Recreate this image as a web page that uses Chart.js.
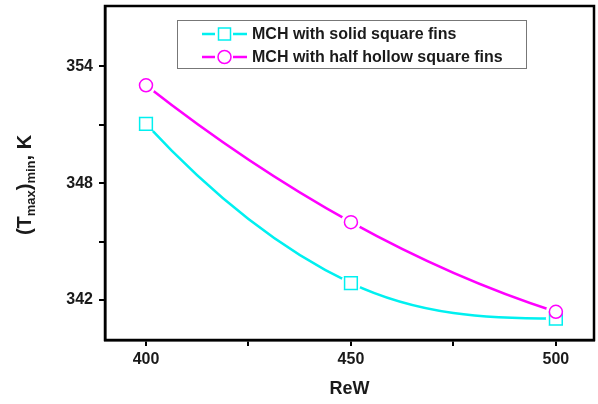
<!DOCTYPE html>
<html>
<head>
<meta charset="utf-8">
<script src="https://cdn.jsdelivr.net/npm/chart.js@4.4.1/dist/chart.umd.min.js"></script>
<style>
  html, body { margin: 0; padding: 0; background: #fff; }
  #wrap { width: 598px; height: 404px; }
</style>
</head>
<body>
<div id="wrap"><canvas id="tempChart" width="598" height="404"></canvas></div>
<script>
// data
const reW = [400, 450, 500];
const solidFins = [351.05, 342.87, 341.05];
const hollowFins = [353.03, 346.0, 341.4];
const xTicks = [400, 425, 450, 475, 500];
const yTicks = [342, 345, 348, 351, 354];
const seriesNames = ['MCH with solid square fins', 'MCH with half hollow square fins'];

const FONT = "'Liberation Sans', Arial, sans-serif";

// smooth the 3-point curves like a parabola through the points
// (end slopes clamped so the curve never overshoots a point)
const parabolaCurve = {
    id: 'parabolaCurve',
    beforeDatasetsDraw(chart) {
        chart.data.datasets.forEach((ds, i) => {
            const meta = chart.getDatasetMeta(i);
            meta.dataset.updateControlPoints(chart.chartArea);
            const p = meta.data;
            if (p.length !== 3) return;
            const h = (p[2].x - p[0].x) / 2;
            const s1 = (p[1].y - p[0].y) / h;
            const s2 = (p[2].y - p[1].y) / h;
            let d0 = (-3 * p[0].y + 4 * p[1].y - p[2].y) / (2 * h);
            const d1 = (p[2].y - p[0].y) / (2 * h);
            let d2 = (p[0].y - 4 * p[1].y + 3 * p[2].y) / (2 * h);
            if (d0 * s1 < 0) d0 = 0;
            if (d2 * s2 < 0) d2 = 0;
            p[0].cp2x = p[0].x + h / 3; p[0].cp2y = p[0].y + d0 * h / 3;
            p[1].cp1x = p[1].x - h / 3; p[1].cp1y = p[1].y - d1 * h / 3;
            p[1].cp2x = p[1].x + h / 3; p[1].cp2y = p[1].y + d1 * h / 3;
            p[2].cp1x = p[2].x - h / 3; p[2].cp1y = p[2].y - d2 * h / 3;
        });
    }
};

// white gap around markers, then redraw markers on top
const markerGap = {
    id: 'markerGap',
    afterDatasetsDraw(chart) {
        const ctx = chart.ctx;
        ctx.save();
        ctx.fillStyle = '#fff';
        chart.data.datasets.forEach((ds, i) => {
            chart.getDatasetMeta(i).data.forEach(pt => {
                ctx.beginPath();
                ctx.arc(pt.x, pt.y, 10, 0, Math.PI * 2);
                ctx.fill();
            });
        });
        ctx.restore();
        chart.data.datasets.forEach((ds, i) => {
            chart.getDatasetMeta(i).data.forEach(pt => pt.draw(chart.ctx, chart.chartArea));
        });
    }
};

// frame, legend box and y title with subscripts
const decor = {
    id: 'decor',
    afterDraw(chart) {
        const ctx = chart.ctx;
        const a = chart.chartArea;
        ctx.save();
        ctx.strokeStyle = '#000';
        ctx.lineWidth = 2.5;
        ctx.strokeRect(a.left, a.top, a.right - a.left, a.bottom - a.top);

        // legend
        ctx.lineWidth = 1;
        ctx.strokeStyle = '#777';
        ctx.strokeRect(177.5, 20.5, 349, 48);
        const rows = [34, 57];
        chart.data.datasets.forEach((ds, i) => {
            const y = rows[i];
            ctx.strokeStyle = ds.borderColor;
            ctx.lineWidth = 2.5;
            ctx.beginPath();
            ctx.moveTo(202, y); ctx.lineTo(215, y);
            ctx.moveTo(233, y); ctx.lineTo(247, y);
            ctx.stroke();
            ctx.lineWidth = 1.5;
            if (ds.pointStyle === 'rect') {
                ctx.strokeRect(218.5, y - 6, 12, 12);
            } else {
                ctx.beginPath();
                ctx.arc(224.5, y, 6.5, 0, Math.PI * 2);
                ctx.stroke();
            }
            ctx.fillStyle = '#1a1a1a';
            ctx.font = 'bold 16px ' + FONT;
            ctx.textBaseline = 'middle';
            ctx.textAlign = 'left';
            ctx.fillText(ds.label, 252, y + 1);
        });

        // y axis title: (T_max)_min, K
        ctx.translate(25, 185);
        ctx.rotate(-Math.PI / 2);
        const parts = [
            ['(T', 20, 0], ['max', 13, 6], [')', 20, 0], ['min', 13, 6], [', K', 20, 0]
        ];
        let w = 0;
        parts.forEach(p => { ctx.font = 'bold ' + p[1] + 'px ' + FONT; w += ctx.measureText(p[0]).width; });
        let x = -w / 2;
        ctx.fillStyle = '#1a1a1a';
        ctx.textBaseline = 'middle';
        ctx.textAlign = 'left';
        parts.forEach(p => {
            ctx.font = 'bold ' + p[1] + 'px ' + FONT;
            ctx.fillText(p[0], x, p[2]);
            x += ctx.measureText(p[0]).width;
        });
        ctx.restore();
    }
};

function createTempChart() {
    const ctx = document.getElementById('tempChart');

    const tempData = {
        datasets: [{
            label: seriesNames[0],
            data: reW.map((r, i) => ({ x: r, y: solidFins[i] })),
            borderColor: '#00f0f0',
            backgroundColor: '#fff',
            borderWidth: 2.5,
            pointStyle: 'rect',
            pointRadius: 9,
            pointBorderWidth: 1.5,
            tension: 0.4
        }, {
            label: seriesNames[1],
            data: reW.map((r, i) => ({ x: r, y: hollowFins[i] })),
            borderColor: '#ff00ff',
            backgroundColor: '#fff',
            borderWidth: 2.5,
            pointStyle: 'circle',
            pointRadius: 6.5,
            pointBorderWidth: 1.5,
            tension: 0.4
        }]
    };

    const tickFont = { family: FONT, size: 16, weight: 'bold' };

    new Chart(ctx, {
        type: 'line',
        data: tempData,
        options: {
            responsive: false,
            animation: false,
            layout: { autoPadding: false, padding: { top: 6, right: 4, left: 0, bottom: 0 } },
            plugins: { legend: { display: false }, tooltip: { enabled: false } },
            scales: {
                x: {
                    type: 'linear',
                    min: 390,
                    max: 509.3,
                    afterBuildTicks: s => { s.ticks = xTicks.map(v => ({ value: v })); },
                    afterFit: s => { s.height = 64; s.paddingLeft = 0; s.paddingRight = 0; },
                    ticks: {
                        color: '#1a1a1a',
                        font: tickFont,
                        padding: 4,
                        maxRotation: 0,
                        callback: v => (v % 50 === 0 ? String(v) : '')
                    },
                    grid: { drawOnChartArea: false, color: '#000', lineWidth: 2, tickLength: 6 },
                    border: { color: '#000', width: 2.5 },
                    title: {
                        display: true,
                        text: 'ReW',
                        color: '#1a1a1a',
                        font: { family: FONT, size: 18, weight: 'bold' },
                        padding: { top: 6, bottom: 4 }
                    }
                },
                y: {
                    min: 339.95,
                    max: 357.1,
                    afterBuildTicks: s => { s.ticks = yTicks.map(v => ({ value: v })); },
                    afterFit: s => { s.width = 105; s.paddingTop = 0; s.paddingBottom = 0; },
                    ticks: {
                        color: '#1a1a1a',
                        font: tickFont,
                        padding: 6,
                        callback: v => (v % 6 === 0 ? String(v) : '')
                    },
                    grid: { drawOnChartArea: false, color: '#000', lineWidth: 2, tickLength: 6 },
                    border: { color: '#000', width: 2.5 }
                }
            }
        },
        plugins: [parabolaCurve, markerGap, decor]
    });
}

document.addEventListener('DOMContentLoaded', () => {
    createTempChart();
});
</script>
</body>
</html>
